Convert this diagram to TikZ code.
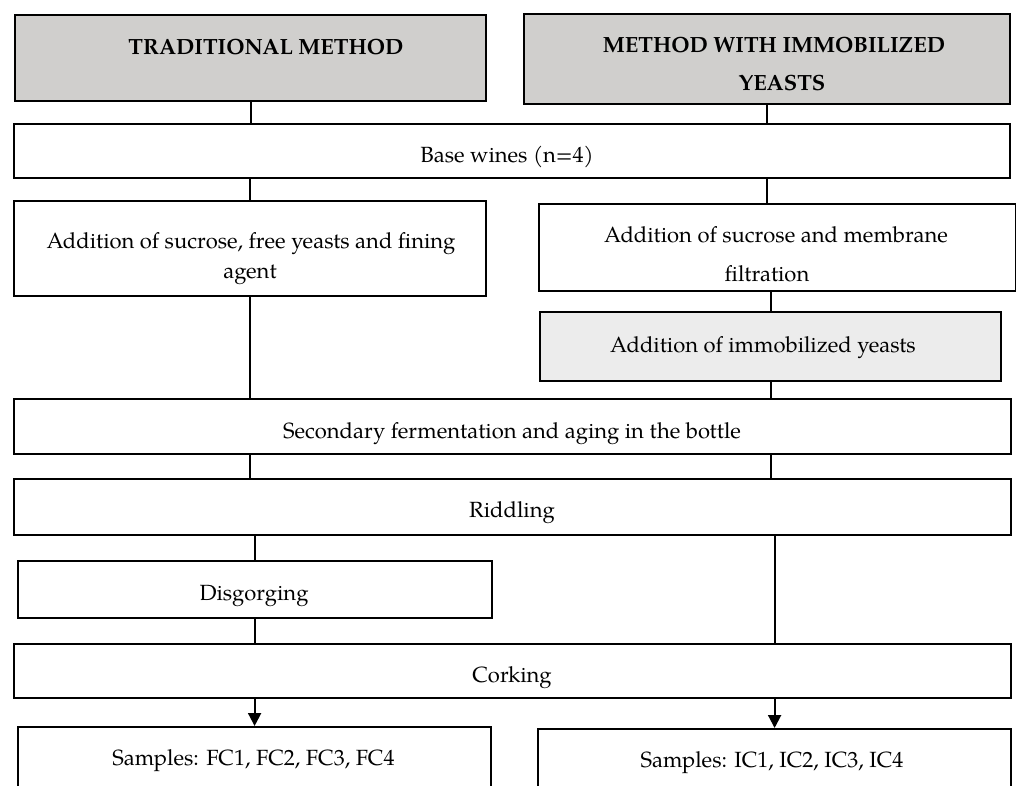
\documentclass[tikz,border=0pt]{standalone}
\usepackage{fontspec}
\setmainfont{texgyrepagella}[Extension=.otf, UprightFont=*-regular, BoldFont=*-bold, ItalicFont=*-italic, BoldItalicFont=*-bolditalic]
\usetikzlibrary{arrows.meta}
\definecolor{hdrgray}{RGB}{208,207,205}
\definecolor{immgray}{RGB}{236,236,236}
\tikzset{
  boxnode/.style={draw=black, line width=2.2pt, inner sep=0pt, anchor=north west},
  txt/.style={inner sep=0pt, anchor=base, font=\fontsize{22}{26}\selectfont},
  hdr/.style={txt, font=\fontsize{22}{26}\selectfont\bfseries},
  conn/.style={draw=black, line width=2pt},
  arr/.style={conn, -{Triangle[length=13pt,width=13pt]}},
}
\newcommand{\boxat}[6]{%
  \node[boxnode, minimum width=#4-#2, minimum height=#5-#3, #6] (#1) at (#2,#3) {};}
\begin{document}
\begin{tikzpicture}[x=1pt,y=-1pt]
\useasboundingbox (0,0) rectangle (1016,785);
\fill[white] (0,0) rectangle (1016,785);
\clip (0,0) rectangle (1016,785);
% boxes
\boxat{h1}{14}{14}{485}{100}{fill=hdrgray}
\boxat{h2}{523}{13}{1009}{103}{fill=hdrgray}
\boxat{base}{13}{123}{1009}{177}{fill=white}
\boxat{addL}{13}{200}{485}{295}{fill=white}
\boxat{addR}{538}{203}{1015}{290}{fill=white}
\boxat{imm}{539}{311}{1000}{380}{fill=immgray}
\boxat{sec}{13}{398}{1010}{453}{fill=white}
\boxat{rid}{13}{478}{1010}{534}{fill=white}
\boxat{dis}{17}{560}{491}{617}{fill=white}
\boxat{cork}{13}{643}{1010}{697}{fill=white}
\boxat{sL}{17}{726}{490}{810}{fill=white}
\boxat{sR}{537}{728}{1010}{810}{fill=white}
% texts
\node[hdr] (th1) at (266,54) {TRADITIONAL METHOD};
\node[hdr] (th2a) at (774,52) {METHOD WITH IMMOBILIZED};
\node[hdr] (th2b) at (782,90) {YEASTS};
\node[txt] (tbase) at (507,162) {Base wines (n=4)};
\node[txt] (taddL1) at (251,248) {Addition of sucrose, free yeasts and fining};
\node[txt] (taddL2) at (250,278) {agent};
\node[txt] (taddR1) at (776,242) {Addition of sucrose and membrane};
\node[txt] (taddR2) at (767,281) {filtration};
\node[txt] (timm) at (763,352) {Addition of immobilized yeasts};
\node[txt] (tsec) at (512,438) {Secondary fermentation and aging in the bottle};
\node[txt] (trid) at (512,517) {Riddling};
\node[txt] (tdis) at (254,600) {Disgorging};
\node[txt] (tcork) at (512,682) {Corking};
\node[txt] (tsL) at (253.5,765) {Samples: FC1, FC2, FC3, FC4};
\node[txt] (tsR) at (772,767) {Samples: IC1, IC2, IC3, IC4};
% connectors
\draw[conn] (h1.south) -- (h1.south |- base.north);
\draw[conn] (h2.south) -- (h2.south |- base.north);
\draw[conn] (base.south -| addL.north) -- (addL.north);
\draw[conn] (base.south -| h2.south) -- (addR.north -| h2.south);
\draw[conn] (addR.south -| imm.north) -- (imm.north);
\draw[conn] (addL.south) -- (addL.south |- sec.north);
\draw[conn] (imm.south) -- (imm.south |- sec.north);
\draw[conn] (sec.south -| addL.south) -- (rid.north -| addL.south);
\draw[conn] (sec.south -| imm.south) -- (rid.north -| imm.south);
\draw[conn] (rid.south -| dis.north) -- (dis.north);
\draw[conn] (rid.south -| sR.north) -- (cork.north -| sR.north);
\draw[conn] (dis.south) -- (dis.south |- cork.north);
\draw[arr] (cork.south -| sL.north) -- (sL.north);
\draw[arr] (cork.south -| sR.north) -- (sR.north);
\end{tikzpicture}
\end{document}
